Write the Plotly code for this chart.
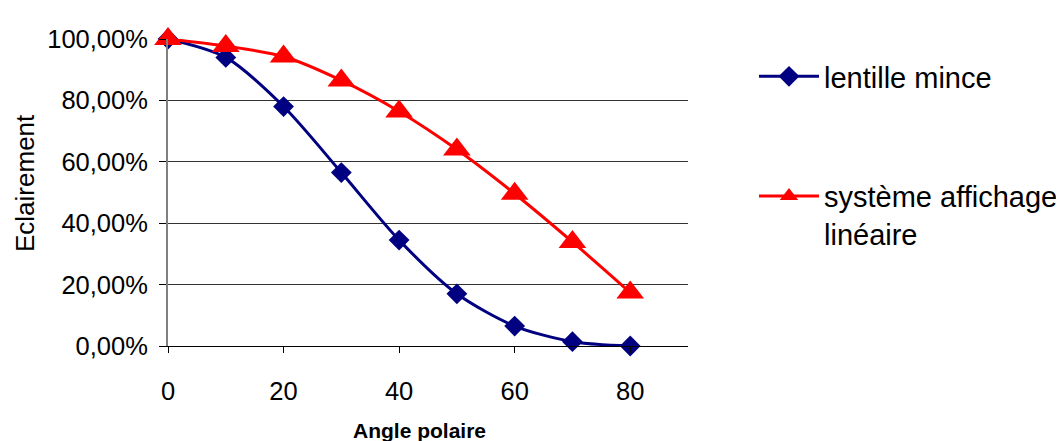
import plotly.graph_objects as go

angles = [0, 10, 20, 30, 40, 50, 60, 70, 80]
lentille_mince = [1.0, 0.94, 0.78, 0.565, 0.345, 0.17, 0.065, 0.014, 0.0]
systeme_affichage = [1.0, 0.977, 0.943, 0.865, 0.764, 0.64, 0.496, 0.339, 0.174]
names = ["lentille mince", "système affichage<br>linéaire"]

FONT = "Liberation Sans, Arial, sans-serif"

fig = go.Figure()
fig.add_trace(go.Scatter(
    x=angles, y=lentille_mince, name=names[0], legendgroup="a", cliponaxis=False,
    mode="lines+markers", line=dict(color="#000080", width=3, shape="spline", smoothing=0.8),
    marker=dict(symbol="diamond", size=16, color="#000080"),
))
fig.add_trace(go.Scatter(
    x=angles, y=systeme_affichage, name=names[1], legendgroup="b", cliponaxis=False,
    mode="lines+markers", line=dict(color="#FF0000", width=3, shape="spline", smoothing=0.8),
    marker=dict(symbol="triangle-up", size=24, color="#FF0000"),
))

fig.update_layout(
    width=1056, height=433,
    margin=dict(l=160, r=376, t=31, b=95, autoexpand=False),
    paper_bgcolor="white", plot_bgcolor="white",
    separators=", ",
    font=dict(family=FONT, color="black", size=25),
    showlegend=True,
    legend=dict(
        x=(754 - 168) / 520, xanchor="left", y=(346 - 51) / 307, yanchor="top",
        font=dict(family=FONT, size=29, color="black"),
        traceorder="grouped", tracegroupgap=79, valign="top",
        itemwidth=60, bgcolor="rgba(0,0,0,0)",
    ),
)
fig.update_xaxes(
    range=[0, 90], tickvals=[0, 20, 40, 60, 80], showgrid=False,
    showline=True, linecolor="black", linewidth=1,
    ticks="outside", ticklen=6, tickcolor="black",
    tickfont=dict(size=25.5), ticklabelstandoff=16,
    zeroline=False,
)
fig.update_yaxes(
    range=[0, 1], dtick=0.2, tickformat=".2%",
    showgrid=True, gridcolor="#333333", gridwidth=1,
    showline=True, linecolor="#808080", linewidth=2,
    ticks="outside", ticklen=7, tickcolor="black",
    tickfont=dict(size=25.5), ticklabelstandoff=6,
    zeroline=False,
)
fig.add_annotation(text="<b>Angle polaire</b>", xref="paper", yref="paper",
                   x=(419.5 - 168) / 520, y=(346 - 430) / 307,
                   showarrow=False, font=dict(size=21, family=FONT, color="black"),
                   xanchor="center", yanchor="middle")
fig.add_annotation(text="Eclairement", xref="paper", yref="paper", textangle=-90,
                   x=(25 - 168) / 520, y=(346 - 183) / 307,
                   showarrow=False, font=dict(size=26, family=FONT, color="black"),
                   xanchor="center", yanchor="middle")

fig.write_html("out.html")
